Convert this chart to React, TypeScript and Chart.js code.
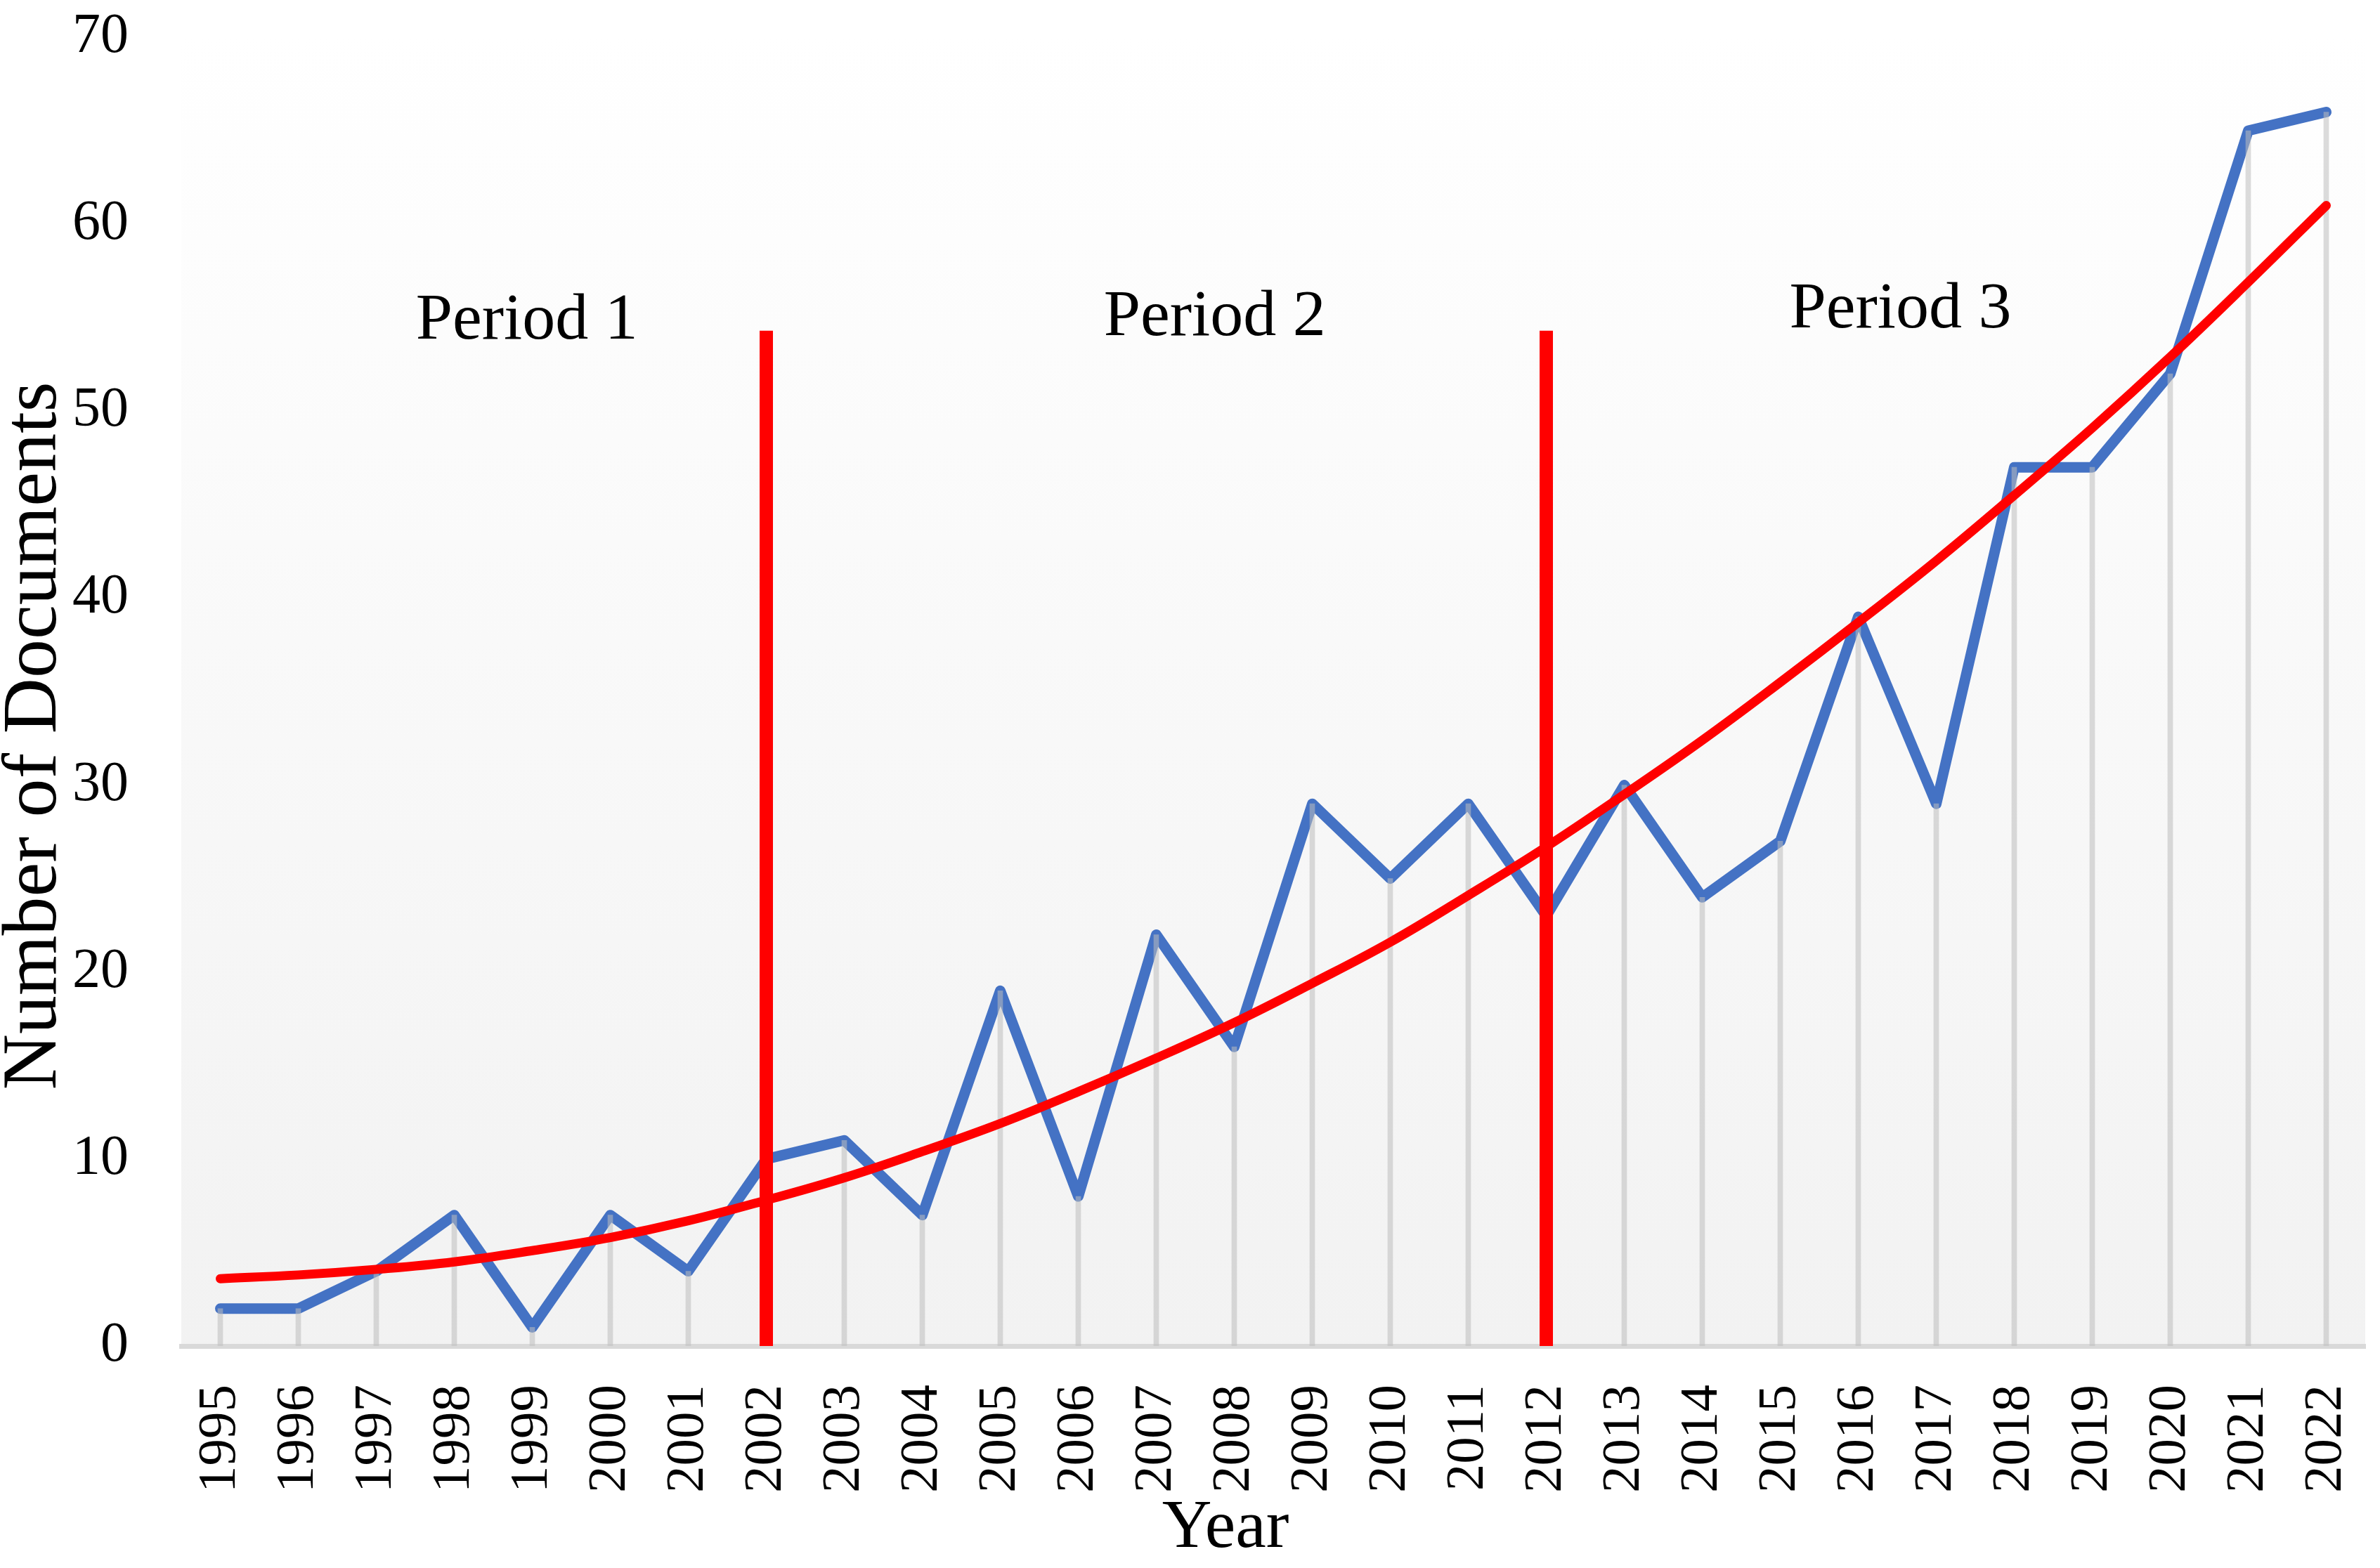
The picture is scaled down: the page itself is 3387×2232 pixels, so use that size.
import React, { useEffect, useRef } from 'react';
import { Chart, registerables } from 'chart.js';

Chart.register(...registerables);

const W = 3387;
const H = 2232;

const years = [
  '1995', '1996', '1997', '1998', '1999', '2000', '2001', '2002', '2003', '2004',
  '2005', '2006', '2007', '2008', '2009', '2010', '2011', '2012', '2013', '2014',
  '2015', '2016', '2017', '2018', '2019', '2020', '2021', '2022',
];

const documents = [
  2, 2, 4, 7, 1, 7, 4, 10, 11, 7,
  19, 8, 22, 16, 29, 25, 29, 23, 30, 24,
  27, 39, 29, 47, 47, 52, 65, 66,
];

const trend = [
  3.6, 3.8, 4.1, 4.5, 5.1, 5.8, 6.7, 7.8, 9.0, 10.4,
  11.9, 13.6, 15.4, 17.3, 19.4, 21.6, 24.1, 26.7, 29.5, 32.4,
  35.5, 38.7, 42.0, 45.5, 49.1, 52.9, 56.9, 61.0,
];

const periodBreaks = ['2002', '2012'];
const periodBreakTop = 54.3;

const periodNames = ['Period 1', 'Period 2', 'Period 3'];
const periodLabelX = [3.93, 12.75, 21.54];
const periodLabelY = [54.8, 55.0, 55.4];

const xTitle = 'Year';
const yTitle = 'Number of Documents';

const yMin = 0;
const yMax = 70;
const yStep = 10;

const FONT = "'Liberation Serif', 'Times New Roman', Times, serif";

const backgroundPlugin = {
  id: 'plotBackground',
  beforeDraw(chart: any) {
    const { ctx, chartArea } = chart;
    if (!chartArea) return;
    const { left, top, right, bottom } = chartArea;
    const g = ctx.createLinearGradient(0, top, 0, bottom);
    g.addColorStop(0, '#FFFFFF');
    g.addColorStop(1, '#F2F2F2');
    ctx.save();
    ctx.fillStyle = g;
    ctx.fillRect(left, top, right - left, bottom - top);
    ctx.restore();
  },
};

const periodLabelPlugin = {
  id: 'periodLabels',
  afterDatasetsDraw(chart: any) {
    const { ctx, scales } = chart;
    const xs = scales.x;
    const ys = scales.y;
    ctx.save();
    ctx.font = `94px ${FONT}`;
    ctx.fillStyle = '#000000';
    ctx.textAlign = 'center';
    ctx.textBaseline = 'middle';
    periodNames.forEach((name, i) => {
      ctx.fillText(name, xs.getPixelForValue(periodLabelX[i]), ys.getPixelForValue(periodLabelY[i]));
    });
    ctx.restore();
  },
};

const axisTitlePlugin = {
  id: 'axisTitles',
  afterDraw(chart: any) {
    const { ctx, chartArea } = chart;
    if (!chartArea) return;
    const cx = (chartArea.left + chartArea.right) / 2;
    const cy = (chartArea.top + chartArea.bottom) / 2;
    ctx.save();
    ctx.fillStyle = '#000000';
    ctx.textAlign = 'center';
    ctx.textBaseline = 'middle';
    ctx.font = `98px ${FONT}`;
    ctx.fillText(xTitle, cx - 68, H - 56);
    ctx.translate(50, cy + 63);
    ctx.rotate(-Math.PI / 2);
    ctx.font = `110px ${FONT}`;
    ctx.fillText(yTitle, 0, 0);
    ctx.restore();
  },
};

export default function App() {
  const canvasRef = useRef<HTMLCanvasElement | null>(null);

  useEffect(() => {
    document.body.style.margin = '0';
    document.body.style.overflow = 'hidden';
    const canvas = canvasRef.current;
    if (!canvas) return;

    const breakDatasets = periodBreaks.map((yr) => ({
      type: 'line' as const,
      data: [
        { x: yr, y: 0 },
        { x: yr, y: periodBreakTop },
      ],
      borderColor: '#FF0000',
      borderWidth: 19,
      borderCapStyle: 'butt' as const,
      pointRadius: 0,
      order: 1,
    }));

    const chart = new Chart(canvas, {
      type: 'bar',
      data: {
        labels: years,
        datasets: [
          {
            type: 'line',
            data: documents,
            borderColor: '#4472C4',
            borderWidth: 15,
            borderCapStyle: 'round',
            borderJoinStyle: 'round',
            pointRadius: 0,
            tension: 0,
            order: 4,
          },
          {
            type: 'bar',
            data: documents,
            backgroundColor: 'rgba(190,190,190,0.55)',
            barThickness: 7,
            order: 3,
          },
          {
            type: 'line',
            data: trend,
            borderColor: '#FF0000',
            borderWidth: 13,
            borderCapStyle: 'round',
            borderJoinStyle: 'round',
            pointRadius: 0,
            tension: 0.4,
            order: 2,
          },
          ...breakDatasets,
        ] as any,
      },
      options: {
        responsive: false,
        devicePixelRatio: 1,
        animation: false,
        layout: { padding: { top: 53, right: 21, left: 0, bottom: 0 } },
        plugins: {
          legend: { display: false },
          tooltip: { enabled: false },
        },
        scales: {
          x: {
            type: 'category',
            offset: true,
            grid: { display: false, drawTicks: false },
            border: { display: true, color: '#D9D9D9', width: 7 },
            ticks: {
              autoSkip: false,
              minRotation: 90,
              maxRotation: 90,
              padding: 55,
              color: '#000000',
              font: { family: FONT, size: 77 },
            },
            title: { display: false, text: xTitle },
            afterFit: (s: any) => {
              s.height = H - 1916;
              s.paddingLeft = 0;
              s.paddingRight = 0;
            },
          },
          y: {
            min: yMin,
            max: yMax,
            grid: { display: false, drawTicks: false },
            border: { display: false },
            ticks: {
              stepSize: yStep,
              padding: 75,
              color: '#000000',
              font: { family: FONT, size: 80 },
            },
            title: { display: false, text: yTitle },
            afterFit: (s: any) => {
              s.width = 258;
              s.paddingTop = 0;
              s.paddingBottom = 0;
            },
          },
        },
      } as any,
      plugins: [backgroundPlugin, periodLabelPlugin, axisTitlePlugin],
    });

    return () => {
      chart.destroy();
    };
  }, []);

  return (
    <div style={{ position: 'fixed', left: 0, top: 0, width: W, height: H, background: '#FFFFFF' }}>
      <canvas ref={canvasRef} width={W} height={H} style={{ display: 'block', width: W, height: H }} />
    </div>
  );
}
